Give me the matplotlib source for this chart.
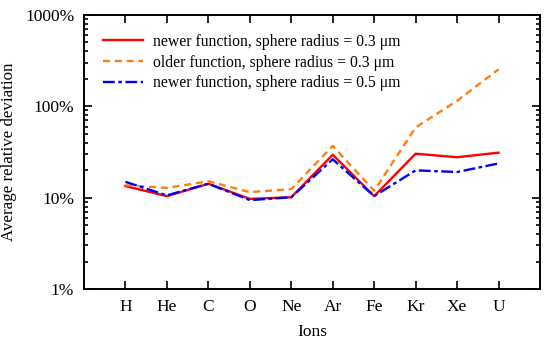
import matplotlib.pyplot as plt
import numpy as np
from matplotlib.ticker import LogLocator, NullFormatter

plt.rcParams['font.family'] = ['Liberation Serif', 'DejaVu Serif']

# Data (percent)
ions = ['H', 'He', 'C', 'O', 'Ne', 'Ar', 'Fe', 'Kr', 'Xe', 'U']
newer_03 = [13.4, 10.4, 14.2, 9.7, 10.1, 29.5, 10.4, 30.3, 27.7, 31.1]
older_03 = [13.7, 12.8, 15.1, 11.5, 12.4, 36.9, 11.9, 58.7, 115.0, 254.0]
newer_05 = [14.9, 10.6, 14.2, 9.4, 10.1, 26.3, 10.4, 19.9, 19.1, 23.7]

fig = plt.figure(figsize=(5.5, 3.48), dpi=100)
ax = fig.add_axes([0.1527, 0.1695, 0.8291, 0.7875])

x = np.arange(len(ions))
ax.plot(x, newer_03, color='#ff0000', lw=1.7, ls='-',
        label='newer function, sphere radius = 0.3 μm')
ax.plot(x, older_03, color='#ff7f0e', lw=1.7, ls=(0, (3, 2)),
        label='older function, sphere radius = 0.3 μm')
ax.plot(x, newer_05, color='#0000ff', lw=1.7, ls=(0, (5, 1.5, 1.5, 1.5)),
        label='newer function, sphere radius = 0.5 μm')

ax.set_yscale('log')
ax.set_ylim(1, 1000)
ax.set_xlim(-1, 10)
ax.set_xticks(x)
ax.set_xticklabels(ions)
ax.set_yticks([1, 10, 100, 1000])
ax.set_yticklabels(['1%', '10%', '100%', '1000%'])
ax.yaxis.set_minor_locator(LogLocator(base=10, subs=np.arange(2, 10)))
ax.yaxis.set_minor_formatter(NullFormatter())

ax.tick_params(which='both', direction='in', top=True, right=True, labelsize=12.5, width=1.2)
ax.tick_params(which='major', length=6, pad=7)
ax.tick_params(which='minor', length=3)
for s in ax.spines.values():
    s.set_linewidth(1.4)

ax.set_xlabel('Ions', fontsize=12.5, labelpad=7)
ax.set_ylabel('Average relative deviation', fontsize=12.2, labelpad=6)

ax.legend(loc='upper left', bbox_to_anchor=(0.02, 0.965), frameon=False, fontsize=11.3,
          handlelength=2.6, handletextpad=0.6, borderaxespad=0.2, labelspacing=0.3)

fig.savefig('out.png', dpi=100)
